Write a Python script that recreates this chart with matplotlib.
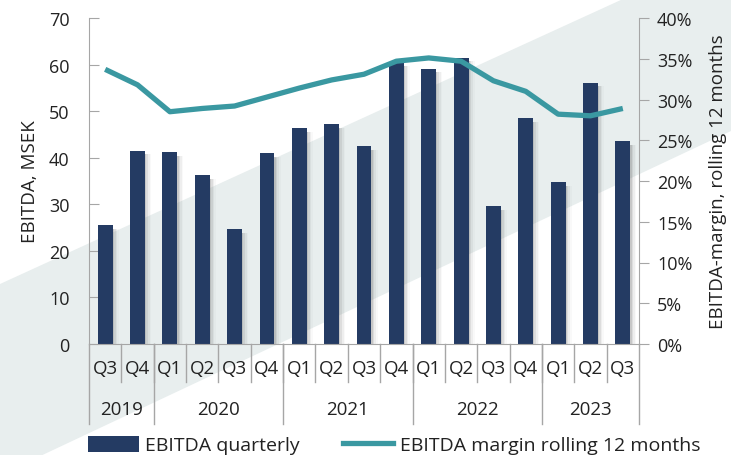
import numpy as np
import matplotlib
matplotlib.use("Agg")
import matplotlib.pyplot as plt
from matplotlib.patches import Polygon, Patch
from matplotlib.lines import Line2D
import matplotlib.transforms as mtransforms

plt.rcParams['font.family'] = ['Open Sans', 'DejaVu Sans']

quarters = ["Q3", "Q4", "Q1", "Q2", "Q3", "Q4", "Q1", "Q2", "Q3", "Q4",
            "Q1", "Q2", "Q3", "Q4", "Q1", "Q2", "Q3"]
years = ["2019", "2020", "2021", "2022", "2023"]
year_counts = [2, 4, 4, 4, 3]
ebitda = [25.6, 41.5, 41.2, 36.3, 24.7, 41.0, 46.3, 47.2, 42.5, 60.6,
          59.1, 61.5, 29.6, 48.5, 34.8, 56.1, 43.6]
margin = [33.7, 31.8, 28.5, 28.9, 29.2, 30.3, 31.4, 32.4, 33.1, 34.7,
          35.1, 34.7, 32.3, 31.0, 28.2, 28.0, 28.9]

navy = "#243b63"
teal = "#3a98a1"
txt = "#222222"
grey = "#a6a6a6"

fig = plt.figure(figsize=(7.31, 4.56), dpi=100)

# background diagonal band
band = Polygon([(0, 1 - 285 / 456), (623 / 731, 1.0), (1.0, 1.0),
                (1.0, 1 - 132 / 456), (0, 1 - 476 / 456)],
               closed=True, transform=fig.transFigure, facecolor="#e8eeee",
               edgecolor="none", zorder=-5)
fig.patches.append(band)

ax = fig.add_axes([89 / 731, 1 - 345 / 456, 550 / 731, 326 / 456])
ax.set_facecolor("none")
x = np.arange(len(quarters))
w = 0.46

# soft shadow to the right of each bar
for i, a in enumerate([0.18, 0.12, 0.07, 0.035]):
    ax.bar(x + 0.04 + 0.05 * i, np.array(ebitda) - 0.8, width=w, bottom=0,
           color="#666666", alpha=a, linewidth=0, zorder=1)
ax.bar(x, ebitda, width=w, color=navy, linewidth=0, zorder=2)

ax.set_xlim(-0.5, len(quarters) - 0.5)
ax.set_ylim(0, 70)
ax.set_yticks(range(0, 71, 10))
ax.set_xticks([])
for s in ["top", "right"]:
    ax.spines[s].set_visible(False)
ax.spines["left"].set_color(grey)
ax.spines["bottom"].set_color(grey)
ax.tick_params(axis="y", direction="in", length=7, color=grey,
               labelsize=13, labelcolor=txt, pad=14)
ax.set_ylabel("EBITDA, MSEK", fontsize=13.5, color=txt, labelpad=7)

ax2 = ax.twinx()
ax2.plot(x, margin, color=teal, linewidth=3.8, solid_capstyle="butt", zorder=5)
ax2.set_ylim(0, 40)
ax2.set_yticks(range(0, 41, 5))
ax2.set_yticklabels([f"{v}%" for v in range(0, 41, 5)])
for s in ["top", "left", "bottom"]:
    ax2.spines[s].set_visible(False)
ax2.spines["right"].set_color(grey)
ax2.tick_params(axis="y", direction="out", length=7, color=grey,
                labelsize=13, labelcolor=txt, pad=6)
ax2.set_ylabel("EBITDA-margin, rolling 12 months", fontsize=13.5,
               color=txt, labelpad=12)

# two-level category axis
trans = mtransforms.blended_transform_factory(ax.transData, ax.transAxes)
q_sep = -38 / 326
y_sep = -80 / 326
for i, q in enumerate(quarters):
    ax.text(i, -24 / 326, q, transform=trans, ha="center", va="center",
            fontsize=13.5, color=txt)
for i in range(1, len(quarters)):
    ax.plot([i - 0.5, i - 0.5], [0, q_sep], transform=trans, color=grey,
            lw=1, clip_on=False)
start = 0
for yr, n in zip(years, year_counts):
    ax.text(start + n / 2 - 0.5, -65 / 326, yr, transform=trans,
            ha="center", va="center", fontsize=13.5, color=txt)
    start += n
edges = np.cumsum([0] + year_counts) - 0.5
for e in edges:
    ax.plot([e, e], [0, y_sep], transform=trans, color=grey, lw=1,
            clip_on=False)

handles = [Patch(facecolor=navy, edgecolor="none"),
           Line2D([0], [0], color=teal, lw=3.8)]
fig.legend(handles, ["EBITDA quarterly", "EBITDA margin rolling 12 months"],
           loc="center left", bbox_to_anchor=(88 / 731, 1 - 446 / 456),
           ncol=2, frameon=False, fontsize=14, handlelength=2.6,
           handleheight=0.9, handletextpad=0.35, columnspacing=2.2,
           labelcolor=txt, borderaxespad=0, borderpad=0)

fig.savefig("out.png", dpi=100)
